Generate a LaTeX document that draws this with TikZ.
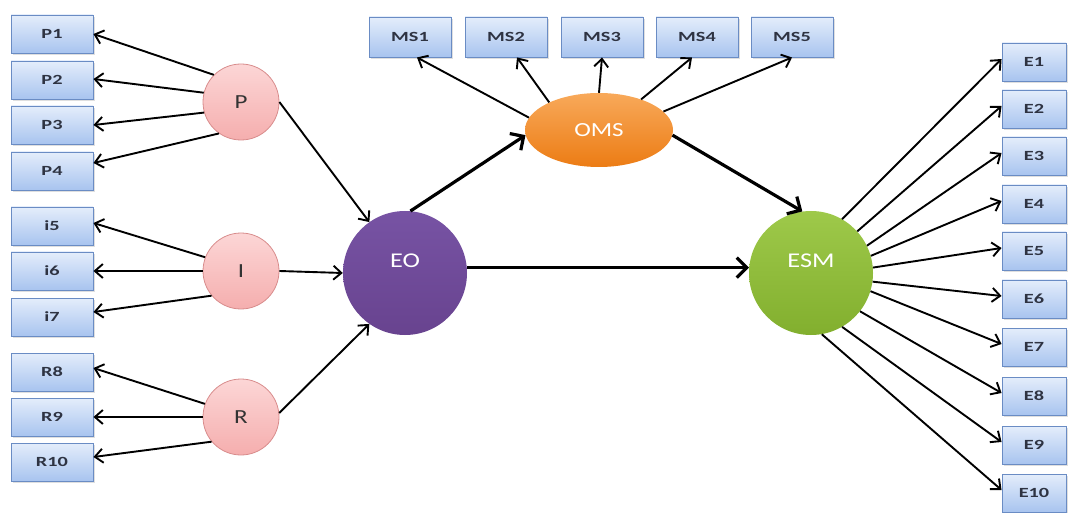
\documentclass[tikz,border=0pt]{standalone}
\usepackage{fontspec}
\setmainfont{Carlito}
\newfontfamily\boxfont[FakeStretch=1.45]{Carlito Bold}
\newfontfamily\circfont[FakeStretch=1.25]{Carlito}
\usetikzlibrary{arrows.meta,shadows,shapes.geometric}
\definecolor{boxtop}{HTML}{E4EDFB}
\definecolor{boxbot}{HTML}{A8C4EF}
\definecolor{boxline}{HTML}{6A8CC4}
\definecolor{boxtext}{HTML}{2E3342}
\definecolor{pinktop}{HTML}{FCD6D6}
\definecolor{pinkbot}{HTML}{F5AEAE}
\definecolor{pinkline}{HTML}{D88C8C}
\definecolor{eotop}{HTML}{7753A4}
\definecolor{eobot}{HTML}{68438F}
\definecolor{esmtop}{HTML}{9EC94A}
\definecolor{esmbot}{HTML}{82AF2E}
\definecolor{omstop}{HTML}{F8A95A}
\definecolor{omsbot}{HTML}{EC7C14}
\tikzset{
  ibox/.style={rectangle, draw=boxline, line width=0.9pt, top color=boxtop, bottom color=boxbot,
    minimum width=82pt, minimum height=38pt, inner sep=0pt,
    font=\boxfont\fontsize{14pt}{14pt}\selectfont, text=boxtext,
    drop shadow={opacity=0.25, shadow xshift=1.5pt, shadow yshift=-2pt}},
  msbox/.style={ibox, minimum height=40pt},
  ebox/.style={ibox, minimum width=64pt},
  latent/.style={circle, draw=pinkline, line width=0.8pt, top color=pinktop, bottom color=pinkbot,
    minimum size=76pt, inner sep=0pt, font=\circfont\fontsize{20pt}{20pt}\selectfont, text=black!80},
  bigc/.style={circle, minimum size=124pt, inner sep=0pt, text height=13pt, text depth=24pt,
    font=\circfont\fontsize{21pt}{21pt}\selectfont, text=white},
  thin/.style={line width=1.9pt, -{Straight Barb[length=8pt,width=14pt]}},
  thick/.style={line width=3.2pt, -{Straight Barb[length=10pt,width=20pt]}}
}
\begin{document}
\begin{tikzpicture}[x=1pt,y=-1pt]
\useasboundingbox (0,0) rectangle (1074,513);
% left indicator boxes
\node[ibox] (P1) at (52,34) {P1};
\node[ibox] (P2) at (52,80) {P2};
\node[ibox] (P3) at (52,125) {P3};
\node[ibox] (P4) at (52,171) {P4};
\node[ibox] (i5) at (52,226) {i5};
\node[ibox] (i6) at (52,271) {i6};
\node[ibox] (i7) at (52,317) {i7};
\node[ibox] (R8) at (52,372) {R8};
\node[ibox] (R9) at (52,417) {R9};
\node[ibox] (R10) at (52,462) {R10};
% MS boxes
\node[msbox] (MS1) at (410,37) {MS1};
\node[msbox] (MS2) at (506,37) {MS2};
\node[msbox] (MS3) at (602,37) {MS3};
\node[msbox] (MS4) at (697,37) {MS4};
\node[msbox] (MS5) at (792,37) {MS5};
% E boxes
\node[ebox] (E1) at (1034,62) {E1};
\node[ebox] (E2) at (1034,109) {E2};
\node[ebox] (E3) at (1034,156) {E3};
\node[ebox] (E4) at (1034,204) {E4};
\node[ebox] (E5) at (1034,251) {E5};
\node[ebox] (E6) at (1034,299) {E6};
\node[ebox] (E7) at (1034,347) {E7};
\node[ebox] (E8) at (1034,396) {E8};
\node[ebox] (E9) at (1034,445) {E9};
\node[ebox] (E10) at (1034,493) {E10};
% latent circles
\node[latent] (P) at (241,102) {P};
\node[latent] (I) at (241,271) {I};
\node[latent] (R) at (241,417) {R};
\node[bigc, top color=eotop, bottom color=eobot] (EO) at (405,273) {EO};
\node[bigc, top color=esmtop, bottom color=esmbot] (ESM) at (811,273) {ESM};
\node[ellipse, minimum width=148pt, minimum height=74pt, inner sep=0pt, top color=omstop, bottom color=omsbot,
  font=\circfont\fontsize{20pt}{20pt}\selectfont, text=white] (OMS) at (599,130) {OMS};
% P arrows
\draw[thin] (P.135) -- (P1.east);
\draw[thin] (P.166) -- ([yshift=1pt]P2.east);
\draw[thin] (P.196) -- (P3.east);
\draw[thin] (P.235) -- ([yshift=8pt]P4.east);
% I arrows
\draw[thin] (I.159) -- ([yshift=3pt]i5.east);
\draw[thin] (I.180) -- (i6.east);
\draw[thin] (I.220) -- ([yshift=5pt]i7.east);
% R arrows
\draw[thin] (R.160) -- ([yshift=4pt]R8.east);
\draw[thin] (R.180) -- (R9.east);
\draw[thin] (R.220) -- ([yshift=5pt]R10.east);
% to EO
\draw[thin] (P.east) -- (EO.125);
\draw[thin] (I.east) -- (EO.west);
\draw[thin] (R.6) -- (EO.235);
% structural
\draw[thick] (EO.85) -- (OMS.184);
\draw[thick] (OMS.356) -- (ESM.98);
\draw[thick] (EO.5) -- (ESM.175);
% MS arrows
\draw[thin] (OMS.170) -- ([xshift=7pt]MS1.south);
\draw[thin] (OMS.151) -- ([xshift=11pt]MS2.south);
\draw[thin] (OMS.90) -- (MS3.south);
\draw[thin] (OMS.36) -- ([xshift=-5pt]MS4.south);
\draw[thin] (OMS.16) -- (MS5.south);
% E arrows
\draw[thin] (ESM.60) -- ([yshift=3pt]E1.west);
\draw[thin] (ESM.42) -- ([yshift=3pt]E2.west);
\draw[thin] (ESM.26) -- ([yshift=3pt]E3.west);
\draw[thin] (ESM.16) -- ([yshift=3pt]E4.west);
\draw[thin] (ESM.5) -- ([yshift=3pt]E5.west);
\draw[thin] (ESM.-8) -- ([yshift=3pt]E6.west);
\draw[thin] (ESM.-17) -- ([yshift=3pt]E7.west);
\draw[thin] (ESM.-38) -- ([yshift=3pt]E8.west);
\draw[thin] (ESM.-60) -- ([yshift=3pt]E9.west);
\draw[thin] (ESM.-80) -- ([yshift=3pt]E10.west);
\end{tikzpicture}
\end{document}
